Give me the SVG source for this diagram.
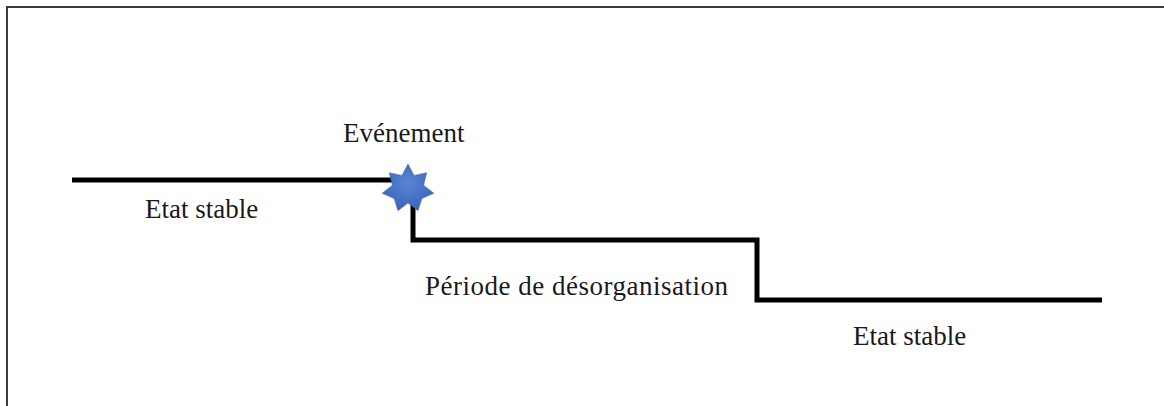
<svg xmlns="http://www.w3.org/2000/svg" width="1164" height="406" viewBox="0 0 1164 406">
  <style>
    .frame { fill: none; stroke: #3a3a3a; stroke-width: 2; }
    .step { fill: none; stroke: #000; stroke-width: 5; stroke-linejoin: miter; stroke-linecap: butt; }
    .label { font-family: "Liberation Serif", "Times New Roman", serif; font-size: 27px; fill: #1a1a1a; }
  </style>
  <defs>
    <radialGradient id="starFill" cx="50%" cy="40%" r="60%">
      <stop offset="0" stop-color="#5a86d6"/>
      <stop offset="1" stop-color="#3a64b8"/>
    </radialGradient>
  </defs>

  <!-- outer frame: left and top edges -->
  <path class="frame" d="M7 406 V7 H1164"/>

  <g id="connectors">
    <!-- stepped timeline -->
    <path class="step" d="M72 180 H400"/>
    <path class="step" d="M413 198 V240 H757 V300 H1102"/>
  </g>

  <g id="event">
    <polygon fill="url(#starFill)" stroke="#3560b0" stroke-width="0.5"
      points="408,164 414.1,175.4 426.7,172.7 423.6,185.2 433.8,193.3 421.9,198.5 418,210.7 408,203 398,210.7 394.1,198.5 382.2,193.3 392.4,185.2 389.3,172.7 401.9,175.4"/>
    <text class="label" x="343" y="142">Evénement</text>
  </g>

  <g id="stable-before">
    <text class="label" x="145" y="218">Etat stable</text>
  </g>

  <g id="disorganisation">
    <text class="label" x="425" y="295" textLength="303" lengthAdjust="spacing">Période de désorganisation</text>
  </g>

  <g id="stable-after">
    <text class="label" x="853" y="345">Etat stable</text>
  </g>
</svg>
